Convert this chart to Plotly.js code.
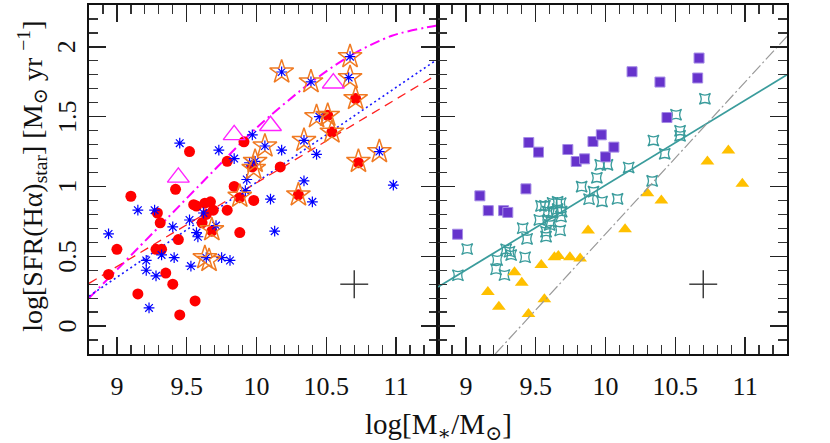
<!DOCTYPE html>
<html>
<head>
<meta charset="utf-8">
<script src="https://cdn.plot.ly/plotly-3.0.1.min.js"></script>
<style>html,body{margin:0;padding:0;background:#fff;}#chart{width:830px;height:443px;}</style>
</head>
<body>
<div id="chart"></div>
<script>
// ---------- Left panel data ----------
const redCircX = [9.52,9.79,9.91,9.97,10.51,10.54,10.71,10.73,10.17,9.84,9.88,9.98,10.30,9.10,9.42,9.29,9.31,9.00,8.94,9.15,9.28,9.32,9.35,9.40,9.45,9.56,9.44,9.55,9.57,9.63,9.67,9.69,9.64,9.61,9.68,9.79,9.88];
const redCircY = [1.25,1.18,1.32,1.14,1.51,1.39,1.63,1.17,1.14,1.00,0.92,0.90,0.94,0.93,0.98,0.81,0.74,0.55,0.37,0.23,0.55,0.55,0.38,0.30,0.08,0.18,0.62,0.87,0.86,0.88,0.89,0.83,0.80,0.74,0.68,0.83,0.67];

const blueAstX = [9.45,9.73,9.84,9.97,9.95,10.18,10.39,10.67,10.66,10.45,10.34,10.06,10.18,10.43,10.88,10.34,9.99,9.93,9.92,10.10,10.40,10.98,10.13,9.15,9.27,8.94,9.40,9.52,9.57,9.58,9.62,9.71,9.21,9.21,9.28,9.32,9.41,9.53,9.64,9.75,9.81,9.23];
const blueAstY = [1.31,1.26,1.20,1.37,1.17,1.82,1.75,1.93,1.78,1.50,1.33,1.29,1.26,1.23,1.25,1.04,1.18,1.05,0.97,0.91,0.89,1.01,0.68,0.83,0.83,0.66,0.71,0.76,0.67,0.64,0.81,0.72,0.47,0.40,0.36,0.51,0.49,0.43,0.49,0.49,0.47,0.13];

const orangeStarX = [10.18,10.39,10.67,10.67,10.71,10.43,10.51,10.54,10.34,10.06,9.99,9.98,10.73,10.88,10.30,9.88,9.68,9.63,9.66];
const orangeStarY = [1.82,1.75,1.93,1.78,1.63,1.50,1.51,1.39,1.33,1.29,1.18,1.13,1.18,1.25,0.94,0.93,0.69,0.49,0.47];

const magTriX = [9.44,9.84,10.10,10.55];
const magTriY = [1.065,1.37,1.435,1.74];

const magCurveX = [8.8,9.3,9.7,10.0,10.37,10.66,10.97,11.3];
const magCurveY = [0.20,0.71,1.12,1.42,1.73,1.93,2.08,2.155];

const blueLineX = [8.8,11.3];
const blueLineY = [0.214,1.914];
const redLineX = [8.8,11.3];
const redLineY = [0.306,1.806];

// ---------- Right panel data ----------
const purpleSqX = [9.45,9.52,9.73,9.79,9.85,9.91,9.97,10.00,10.06,10.19,10.39,10.67,10.66,10.44,9.10,9.16,9.27,9.30,9.43,8.94];
const purpleSqY = [1.315,1.246,1.265,1.179,1.198,1.322,1.370,1.212,1.282,1.822,1.748,1.920,1.777,1.494,0.933,0.827,0.827,0.814,0.983,0.658];

const goldTriX = [10.73,10.88,10.98,10.30,10.40,10.14,9.875,9.54,9.634,9.662,9.745,9.818,9.348,9.40,9.157,9.236,9.562,9.448];
const goldTriY = [1.179,1.258,1.019,0.952,0.899,0.694,0.684,0.438,0.493,0.502,0.493,0.484,0.385,0.311,0.244,0.138,0.192,0.086];

const tealStarX = [10.712,10.505,10.534,10.534,10.343,10.424,10.166,10.334,9.962,10.014,9.938,10.086,9.829,9.914,9.882,9.975,9.538,9.566,9.621,9.657,9.679,9.586,9.621,9.657,9.686,9.526,9.609,9.681,9.675,9.574,9.574,9.600,9.407,9.438,9.288,9.312,9.324,9.424,9.009,9.224,9.216,9.276,8.943];
const tealStarY = [1.628,1.514,1.399,1.363,1.329,1.234,1.136,1.040,1.155,1.155,1.062,0.911,0.999,0.963,0.909,0.892,0.861,0.861,0.882,0.890,0.880,0.820,0.813,0.837,0.820,0.760,0.748,0.784,0.685,0.676,0.641,0.725,0.701,0.624,0.550,0.533,0.509,0.493,0.552,0.473,0.407,0.366,0.364];

const tealLineX = [8.8,11.3];
const tealLineY = [0.28,1.80];
const grayLineX = [9.21,11.3];
const grayLineY = [-0.2,2.075];

const errX = [10.7];
const errY = [0.3];
const errSize = [0.1];

// y tick labels (drawn rotated, as in the reference)
const yTickVals = [0, 0.5, 1, 1.5, 2];
const yTickText = ['0', '0.5', '1', '1.5', '2'];

// ---------- Traces ----------
const traces = [
  {x:magCurveX, y:magCurveY, xaxis:'x', yaxis:'y', mode:'lines', line:{color:'#ff00ff', width:2, dash:'10px,4px,2px,4px', shape:'spline', smoothing:0.8}, hoverinfo:'skip'},
  {x:blueLineX, y:blueLineY, xaxis:'x', yaxis:'y', mode:'lines', line:{color:'#1a1aff', width:1.6, dash:'2px,3px'}, hoverinfo:'skip'},
  {x:redLineX, y:redLineY, xaxis:'x', yaxis:'y', mode:'lines', line:{color:'#ff2020', width:1.3, dash:'9px,6px'}, hoverinfo:'skip'},
  {x:redCircX, y:redCircY, xaxis:'x', yaxis:'y', mode:'markers', marker:{symbol:'circle', size:11, color:'#ff0000', line:{width:0}}},
  {x:blueAstX, y:blueAstY, xaxis:'x', yaxis:'y', mode:'markers', marker:{symbol:'asterisk-open', size:9, color:'#0000ff', line:{color:'#0000ff', width:1.2}}},
  {x:orangeStarX, y:orangeStarY, xaxis:'x', yaxis:'y', mode:'markers', marker:{symbol:'star-open', size:18, color:'#f07a22', line:{color:'#f07a22', width:1.5}}},
  {x:magTriX, y:magTriY, xaxis:'x', yaxis:'y', mode:'markers', marker:{symbol:'triangle-up-open', size:19, color:'#ff22ff', line:{color:'#ff22ff', width:1.4}}},
  {x:errX, y:errY, xaxis:'x', yaxis:'y', mode:'markers', marker:{size:1, color:'rgba(0,0,0,0)'},
   error_x:{type:'data', array:errSize, color:'#333', thickness:1.4, width:0},
   error_y:{type:'data', array:errSize, color:'#333', thickness:1.4, width:0}},

  {x:tealStarX, y:tealStarY, xaxis:'x2', yaxis:'y2', mode:'markers', marker:{symbol:'star-square-open', size:10, color:'#3a9c9c', line:{color:'#3a9c9c', width:1.3}}},
  {x:purpleSqX, y:purpleSqY, xaxis:'x2', yaxis:'y2', mode:'markers', marker:{symbol:'square', size:10, color:'#6633cc', line:{color:'#a58be6', width:1}}},
  {x:goldTriX, y:goldTriY, xaxis:'x2', yaxis:'y2', mode:'markers', marker:{symbol:'triangle-up', size:12, color:'#ffc000', line:{width:0}}},
  {x:tealLineX, y:tealLineY, xaxis:'x2', yaxis:'y2', mode:'lines', line:{color:'#3a9c9c', width:1.8}, hoverinfo:'skip'},
  {x:grayLineX, y:grayLineY, xaxis:'x2', yaxis:'y2', mode:'lines', line:{color:'#999999', width:1.2, dash:'12px,3px,2px,3px'}, hoverinfo:'skip'},
  {x:errX, y:errY, xaxis:'x2', yaxis:'y2', mode:'markers', marker:{size:1, color:'rgba(0,0,0,0)'},
   error_x:{type:'data', array:errSize, color:'#333', thickness:1.4, width:0},
   error_y:{type:'data', array:errSize, color:'#333', thickness:1.4, width:0}}
];

const serif = 'Liberation Serif, DejaVu Serif, serif';
const tickFont = {family:serif, size:26, color:'#111'};
function axisBase(extra){
  return Object.assign({
    range:[8.8,11.3], dtick:0.5, tick0:0, ticks:'inside', ticklen:17, tickwidth:1.5, tickcolor:'#222',
    showline:true, linecolor:'#111', linewidth:2, mirror:'allticks', showgrid:false, zeroline:false,
    minor:{dtick:0.1, tick0:0, ticks:'inside', ticklen:9, tickwidth:1.3, tickcolor:'#333', showgrid:false},
    tickfont:tickFont, fixedrange:true
  }, extra);
}

const annotations = yTickVals.map((v, i) => ({
  xref:'paper', yref:'y', x:-0.031, y:v, xanchor:'center', yanchor:'middle', showarrow:false,
  textangle:-90, text:yTickText[i], font:{family:serif, size:26, color:'#111'}
}));
annotations.push({
  xref:'paper', yref:'paper', x:-0.082, y:0.51, xanchor:'center', yanchor:'middle', showarrow:false,
  textangle:-90, text:'log[SFR(Hα)<sub>star</sub>] [M<sub>⊙</sub> yr <sup>−1</sup>]',
  font:{family:serif, size:28, color:'#111'}
});
annotations.push({
  xref:'paper', yref:'paper', x:0.5, y:-0.205, xanchor:'center', yanchor:'middle', showarrow:false,
  text:'log[M<sub>∗</sub>/M<sub>⊙</sub>]', font:{family:serif, size:29, color:'#111'}
});

const layout = {
  width:830, height:443,
  margin:{l:89, r:43, t:5, b:89},
  paper_bgcolor:'#ffffff', plot_bgcolor:'#ffffff',
  showlegend:false,
  xaxis: axisBase({domain:[0,0.5], anchor:'y', ticklabelstandoff:8}),
  xaxis2: axisBase({domain:[0.5,1], anchor:'y2', ticklabelstandoff:8}),
  yaxis: axisBase({range:[-0.2,2.3], anchor:'x', showticklabels:false}),
  yaxis2: axisBase({range:[-0.2,2.3], anchor:'x2', showticklabels:false}),
  annotations: annotations
};

Plotly.newPlot('chart', traces, layout, {staticPlot:true, displayModeBar:false});
</script>
</body>
</html>
